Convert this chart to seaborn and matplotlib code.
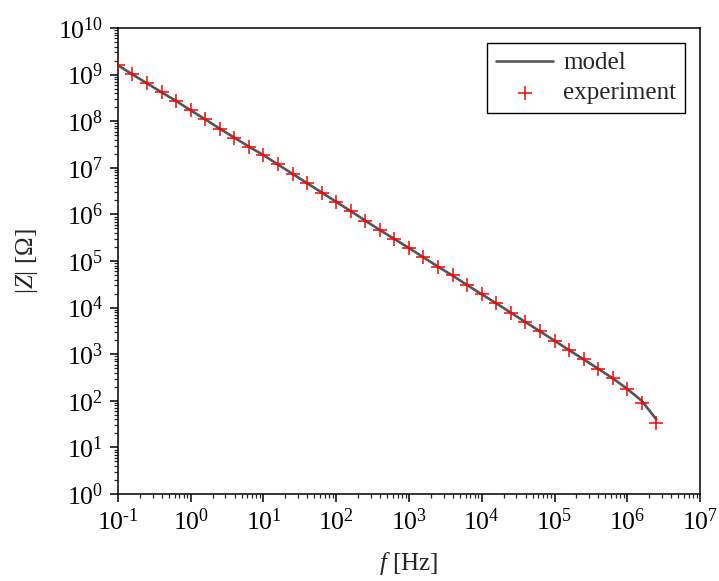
import matplotlib
matplotlib.use("Agg")
import matplotlib.pyplot as plt
import matplotlib.ticker as mticker
import numpy as np
import pandas as pd
import seaborn as sns

# Measurement frequencies [Hz], five points per decade
freq_hz = [0.1, 0.158, 0.251, 0.398, 0.631,
           1.0, 1.58, 2.51, 3.98, 6.31,
           10, 15.8, 25.1, 39.8, 63.1,
           100, 158, 251, 398, 631,
           1e3, 1.58e3, 2.51e3, 3.98e3, 6.31e3,
           1e4, 1.58e4, 2.51e4, 3.98e4, 6.31e4,
           1e5, 1.58e5, 2.51e5, 3.98e5, 6.31e5,
           1e6, 1.58e6, 2.51e6]

# Measured impedance magnitude [Ohm]
z_experiment = [1.61e9, 1.01e9, 6.50e8, 4.17e8, 2.71e8,
                1.71e8, 1.10e8, 6.90e7, 4.45e7, 2.84e7,
                1.87e7, 1.18e7, 7.41e6, 4.68e6, 2.95e6,
                1.86e6, 1.18e6, 7.33e5, 4.62e5, 2.96e5,
                1.90e5, 1.20e5, 7.55e4, 4.90e4, 3.05e4,
                1.93e4, 1.24e4, 7.78e3, 4.91e3, 3.10e3,
                1.95e3, 1.23e3, 776, 489, 304,
                177, 91, 33]

# Model impedance magnitude [Ohm]
z_model = [1.58e9, 1.01e9, 6.50e8, 4.17e8, 2.71e8,
           1.71e8, 1.10e8, 6.90e7, 4.45e7, 2.84e7,
           1.87e7, 1.18e7, 7.41e6, 4.68e6, 2.95e6,
           1.86e6, 1.18e6, 7.33e5, 4.62e5, 2.96e5,
           1.90e5, 1.20e5, 7.55e4, 4.85e4, 3.05e4,
           1.93e4, 1.24e4, 7.78e3, 4.91e3, 3.10e3,
           1.95e3, 1.23e3, 776, 489, 304,
           180, 100, 40]

df_model = pd.DataFrame({"f": freq_hz, "Z": z_model})
df_exp = pd.DataFrame({"f": freq_hz, "Z": z_experiment})

sns.set_theme(style="ticks")
plt.rcParams["font.family"] = ["Liberation Serif", "DejaVu Serif"]
plt.rcParams["mathtext.fontset"] = "custom"
plt.rcParams["mathtext.rm"] = "Liberation Serif"
plt.rcParams["mathtext.it"] = "Liberation Serif:italic"
plt.rcParams["mathtext.bf"] = "Liberation Serif:bold"

fig = plt.figure(figsize=(7.19, 5.81), dpi=100)
ax = fig.add_axes([0.1641, 0.1497, 0.8095, 0.8021])

sns.lineplot(data=df_model, x="f", y="Z", ax=ax, color="#555555",
             linewidth=1.9, label="model")
sns.scatterplot(data=df_exp, x="f", y="Z", ax=ax, marker="+", color="red",
                s=90, linewidth=1.1, label="experiment", zorder=3)

ax.set_xscale("log")
ax.set_yscale("log")
ax.set_xlim(1e-1, 1e7)
ax.set_ylim(1e0, 1e10)


def decade_label(value, pos):
    exp = int(round(np.log10(value)))
    if exp < 0:
        return r"$\mathregular{10^{\text{-}%d}}$" % (-exp)
    return r"$\mathregular{10^{%d}}$" % exp


ax.xaxis.set_major_locator(mticker.LogLocator(base=10, numticks=20))
ax.yaxis.set_major_locator(mticker.LogLocator(base=10, numticks=20))
ax.xaxis.set_major_formatter(mticker.FuncFormatter(decade_label))
ax.yaxis.set_major_formatter(mticker.FuncFormatter(decade_label))
ax.xaxis.set_minor_locator(mticker.LogLocator(base=10, subs=np.arange(2, 10), numticks=100))
ax.yaxis.set_minor_locator(mticker.LogLocator(base=10, subs=np.arange(2, 10), numticks=100))
ax.xaxis.set_minor_formatter(mticker.NullFormatter())
ax.yaxis.set_minor_formatter(mticker.NullFormatter())

for side in ["left", "bottom", "top", "right"]:
    ax.spines[side].set_visible(True)
    ax.spines[side].set_linewidth(1.1)
    ax.spines[side].set_color("black")

ax.tick_params(axis="both", which="major", direction="out", length=5.5,
               width=1.1, labelsize=18.5, colors="black", pad=5,
               top=False, right=False)
ax.tick_params(axis="both", which="minor", direction="out", length=3,
               width=0.9, top=False, right=False)

ax.set_xlabel("$f$ [Hz]", fontsize=18, labelpad=11)
ax.set_ylabel("|$Z$| [Ω]", fontsize=18, labelpad=13)

leg = ax.legend(loc="upper right", fontsize=18, frameon=True, fancybox=False,
                edgecolor="black", framealpha=1, borderaxespad=0.6,
                handlelength=2.3, handletextpad=0.4, borderpad=0.35,
                labelspacing=0.3)
leg.get_frame().set_linewidth(1.0)

fig.savefig("out.png", dpi=100)
